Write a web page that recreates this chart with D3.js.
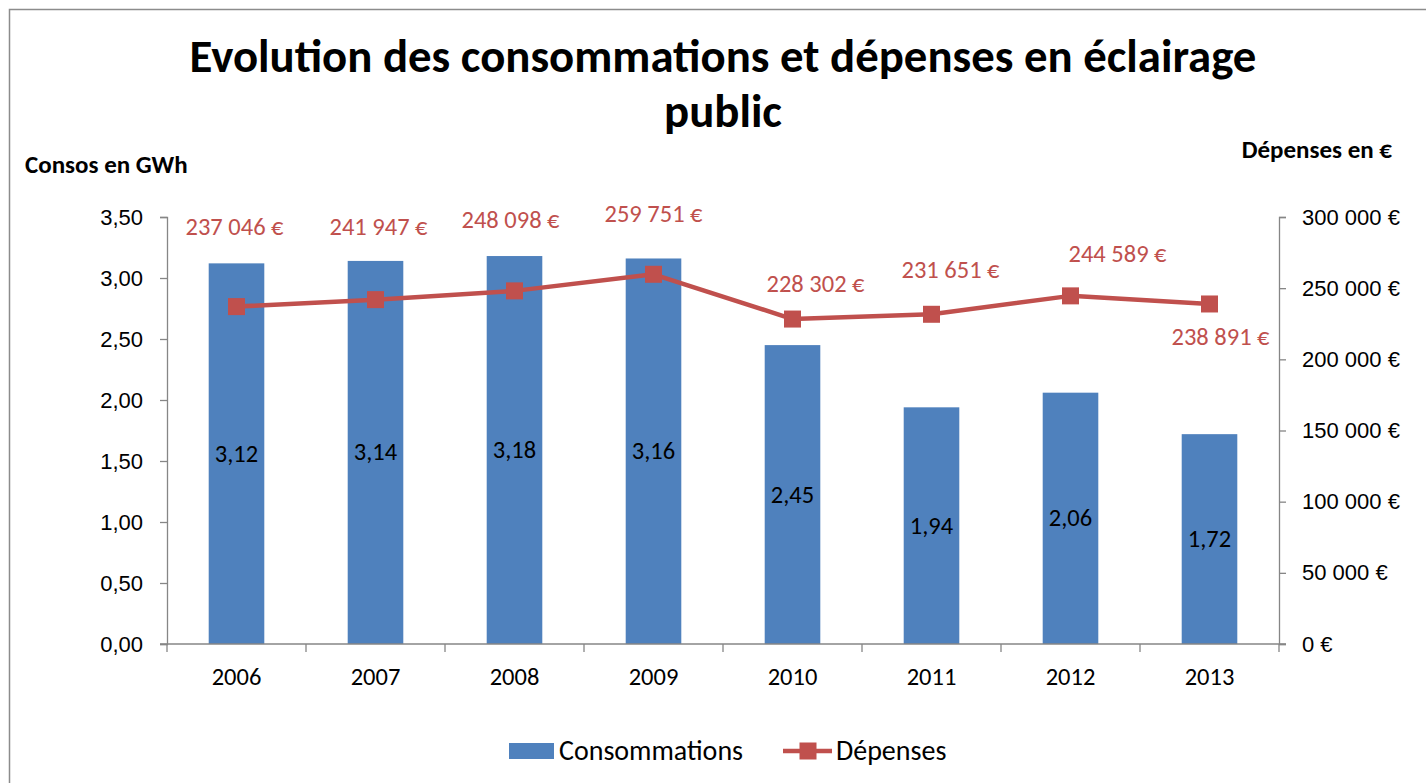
<!DOCTYPE html>
<html>
<head>
<meta charset="utf-8">
<script src="https://cdn.jsdelivr.net/npm/d3@7"></script>
<style>
  body { margin: 0; background: #fff; }
  svg { display: block; font-family: Carlito, Lato, sans-serif; }
</style>
</head>
<body>
<svg id="chart" width="1426" height="783"></svg>
<script>
// data
const years = ['2006', '2007', '2008', '2009', '2010', '2011', '2012', '2013']
const consos = [3.12, 3.14, 3.18, 3.16, 2.45, 1.94, 2.06, 1.72]          // GWh
const depenses = [237046, 241947, 248098, 259751, 228302, 231651, 244589, 238891] // €
const leftTicks = [0, 0.5, 1, 1.5, 2, 2.5, 3, 3.5]
const rightTicks = [0, 50000, 100000, 150000, 200000, 250000, 300000]

// label nudges for the red value labels (dx, dy from the point, like excel manual placement)
const depLabelShift = [[-2, -72], [3, -65], [-4, -63], [0, -52], [23, -27], [19, -36], [47, -34], [11, 41]]

const blue = '#4F81BD', red = '#C0504D', axisGrey = '#868686'

const margin = {top: 217, right: 147, bottom: 139, left: 167}
const W = 1426, H = 783
const innerW = W - margin.left - margin.right,
      innerH = H - margin.top - margin.bottom

const fmtGWh = d3.format('.2f')
const commaNum = v => fmtGWh(v).replace('.', ',')
const spaced = d3.formatLocale({decimal: ',', thousands: ' ', grouping: [3], currency: ['', ' €']}).format(',.0f')
const euro = v => spaced(v) + ' €'

const svg = d3.select('#chart')

// chart frame (only left and top visible in the picture)
svg.append('rect')
  .attr('x', 9.5).attr('y', 9.5)
  .attr('width', W + 20).attr('height', H + 20)
  .attr('fill', 'none').attr('stroke', '#8c8c8c').attr('stroke-width', 1.5)

// title, fit line one to the width seen in the picture
const title = svg.append('text')
  .attr('text-anchor', 'middle')
  .style('font-weight', 'bold')
  .style('font-size', '44px')
  .attr('fill', '#000')
const t1 = title.append('tspan').attr('x', 723).attr('y', 72)
  .text('Evolution des consommations et dépenses en éclairage')
const t1w = t1.node().getComputedTextLength()
title.style('font-size', (44 * 1067 / t1w).toFixed(1) + 'px')
title.append('tspan').attr('x', 723).attr('y', 127).text('public')

svg.append('text')
  .attr('x', 25).attr('y', 173)
  .style('font-weight', 'bold').style('font-size', '25px')
  .text('Consos en GWh')

svg.append('text')
  .attr('x', 1392).attr('y', 158)
  .attr('text-anchor', 'end')
  .style('font-weight', 'bold').style('font-size', '25px')
  .text('Dépenses en €')

const g = svg.append('g').attr('transform', `translate(${margin.left},${margin.top})`)

const x = d3.scaleBand().domain(years).range([0, innerW]).paddingInner(0.6).paddingOuter(0.3)
const xBand = d3.scaleBand().domain(years).range([0, innerW]) // for tick marks between years
const yL = d3.scaleLinear().domain([0, 3.5]).range([innerH, 0])
const yR = d3.scaleLinear().domain([0, 300000]).range([innerH, 0])

// bars
g.append('g').selectAll('rect')
  .data(consos)
  .join('rect')
    .attr('x', (d, i) => x(years[i]))
    .attr('y', d => yL(d))
    .attr('width', x.bandwidth())
    .attr('height', d => innerH - yL(d))
    .attr('fill', blue)

// bar labels
g.append('g').selectAll('text')
  .data(consos)
  .join('text')
    .attr('x', (d, i) => x(years[i]) + x.bandwidth() / 2)
    .attr('y', d => (yL(d) + innerH) / 2 + 8)
    .attr('text-anchor', 'middle')
    .style('font-size', '24.5px')
    .text(d => commaNum(d))

// axes
const styleAxis = a => {
  a.select('.domain').attr('stroke', axisGrey).attr('stroke-width', 1.3)
  a.selectAll('.tick line').attr('stroke', axisGrey).attr('stroke-width', 1.3)
  a.selectAll('text').style('font-size', '22px').attr('fill', '#000')
}

let axisLeft = g.append('g')
  .call(d3.axisLeft(yL).tickValues(leftTicks).tickSize(7).tickSizeOuter(7).tickPadding(17).tickFormat(commaNum))
styleAxis(axisLeft)

let axisRight = g.append('g')
  .attr('transform', `translate(${innerW},0)`)
  .call(d3.axisRight(yR).tickValues(rightTicks).tickSize(7).tickSizeOuter(7).tickPadding(16).tickFormat(euro))
styleAxis(axisRight)

// x axis: ticks on band boundaries
let axisBottom = g.append('g').attr('transform', `translate(0,${innerH})`)
axisBottom.append('line')
  .attr('x1', -7).attr('x2', innerW + 7)
  .attr('stroke', axisGrey).attr('stroke-width', 1.3)
axisBottom.selectAll('line.tk')
  .data(years.concat(['end']))
  .join('line')
    .attr('class', 'tk')
    .attr('x1', (d, i) => i * xBand.step()).attr('x2', (d, i) => i * xBand.step())
    .attr('y1', 0).attr('y2', 8)
    .attr('stroke', axisGrey).attr('stroke-width', 1.3)
axisBottom.selectAll('text')
  .data(years)
  .join('text')
    .attr('x', d => xBand(d) + xBand.bandwidth() / 2)
    .attr('y', 41)
    .attr('text-anchor', 'middle')
    .style('font-size', '24.5px')
    .text(d => d)

// line for dépenses
const cx = i => x(years[i]) + x.bandwidth() / 2
const line = d3.line().x((d, i) => cx(i)).y(d => yR(d))

g.append('path')
  .datum(depenses)
  .attr('d', line)
  .attr('fill', 'none')
  .attr('stroke', red)
  .attr('stroke-width', 4.5)
  .attr('stroke-linejoin', 'round')

g.append('g').selectAll('rect')
  .data(depenses)
  .join('rect')
    .attr('x', (d, i) => cx(i) - 8.5)
    .attr('y', d => yR(d) - 8.5)
    .attr('width', 17).attr('height', 17)
    .attr('fill', red)

g.append('g').selectAll('text')
  .data(depenses)
  .join('text')
    .attr('x', (d, i) => cx(i) + depLabelShift[i][0])
    .attr('y', (d, i) => yR(d) + depLabelShift[i][1])
    .attr('text-anchor', 'middle')
    .attr('fill', red)
    .style('font-size', '24.5px')
    .text(d => euro(d))

// legend
const legend = svg.append('g')
legend.append('rect')
  .attr('x', 509).attr('y', 743).attr('width', 45).attr('height', 16)
  .attr('fill', blue)
legend.append('text')
  .attr('x', 559).attr('y', 760)
  .style('font-size', '28px')
  .text('Consommations')
legend.append('line')
  .attr('x1', 783).attr('x2', 832).attr('y1', 751).attr('y2', 751)
  .attr('stroke', red).attr('stroke-width', 4.5)
legend.append('rect')
  .attr('x', 799.5).attr('y', 742.5).attr('width', 17).attr('height', 17)
  .attr('fill', red)
legend.append('text')
  .attr('x', 836).attr('y', 760)
  .style('font-size', '28px')
  .text('Dépenses')
</script>
</body>
</html>
